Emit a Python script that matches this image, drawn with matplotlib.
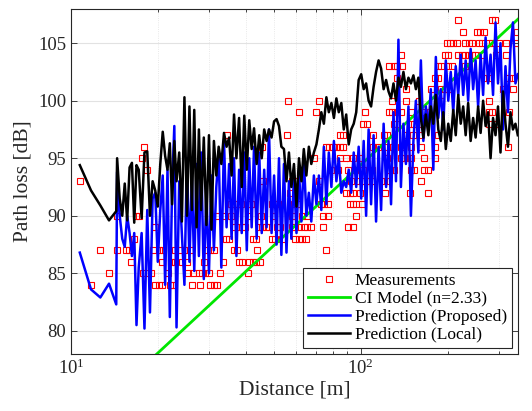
import matplotlib
matplotlib.use("Agg")
import matplotlib.pyplot as plt
from matplotlib.ticker import FixedLocator, NullFormatter

plt.rcParams["font.family"] = ["Liberation Serif", "DejaVu Serif"]
plt.rcParams["mathtext.fontset"] = "custom"
plt.rcParams["mathtext.rm"] = "Liberation Serif"
plt.rcParams["mathtext.it"] = "Liberation Serif:italic"

# measured path loss (dB, integer steps) -> distances where it was recorded [m]
d_84 = [11.66, 19.53, 20.06, 20.61, 21.88, 22.48, 26.07, 27.74, 30.25, 31.08, 31.93]
d_85 = [13.46, 17.63, 18.35, 18.86, 21.58, 25.38, 26.43, 27.52, 28.28, 29.05, 29.84, 32.63, 40.72]
d_86 = [16.12, 20.61, 22.18, 22.78, 24.04, 25.04, 28.66, 33.35, 37.85, 38.89, 41.26, 42.41, 43.57, 44.76]
d_87 = [12.58, 14.40, 15.40, 15.82, 19.11, 20.17, 20.72, 22.78, 23.73, 24.71, 25.73, 29.05, 30.07,
        31.08, 36.35, 37.30, 43.80, 75.80]
d_88 = [16.48, 34.16, 35.10, 42.41, 43.57, 49.20, 50.55, 53.30, 59.45, 61.10, 62.70, 64.47]
d_89 = [19.50, 36.56, 37.55, 38.90, 39.95, 44.50, 45.70, 46.96, 48.20, 51.20, 52.60, 57.90, 59.45,
        61.10, 63.60, 65.35, 67.10, 73.80, 90.40, 94.15]
d_90 = [14.40, 16.70, 17.16, 31.93, 33.70, 35.60, 41.26, 45.40, 49.87, 57.90, 62.70, 65.35, 73.80,
        76.85, 96.70]
d_91 = [35.60, 36.56, 37.55, 38.58, 41.84, 42.70, 49.20, 50.55, 51.93, 58.67, 60.27, 72.80, 74.80,
        76.85, 91.60, 94.15, 96.70, 100.7]
d_92 = [57.10, 60.27, 89.20, 91.60, 94.15, 99.35, 121.6, 148.2, 171.4]
d_93 = [10.76, 45.98, 57.90, 59.45, 71.80, 92.90, 98.00, 100.7, 104.9, 106.3, 109.2, 120.1, 123.3, 161.6]
d_94 = [18.20, 78.96, 83.40, 90.40, 95.40, 102.0, 109.2, 126.7, 130.2, 149.0, 153.1, 166.0, 170.5]
d_95 = [17.50, 68.97, 84.50, 89.20, 94.15, 99.35, 123.3, 137.4, 141.1, 145.0, 149.0, 166.0, 180.0]
d_96 = [17.87, 45.70, 75.80, 77.90, 80.00, 82.20, 84.50, 86.80, 110.7, 115.2, 123.3, 126.7, 137.4,
        149.0, 161.6, 180.0, 321.9]
d_97 = [34.60, 55.60, 84.50, 86.80, 110.7, 120.1, 123.3, 145.0, 151.0, 161.6, 184.9]
d_98 = [102.0, 104.9, 130.2, 133.8, 149.0, 153.1, 161.6, 277.4, 292.8]
d_99 = [61.10, 69.90, 103.4, 125.0, 128.4, 133.8, 137.4, 149.0, 166.0, 170.5, 277.4, 285.0, 326.0]
d_100 = [56.30, 71.80, 128.4, 143.1, 159.4, 190.0, 277.4]
d_101 = [143.1, 175.1, 190.0, 195.2, 200.6, 309.1, 335.1]
d_102 = [133.8, 180.0, 184.9, 270.0, 277.4, 326.0, 335.0]
d_103 = [125.0, 130.2, 133.8, 139.2, 184.9, 190.0, 200.6, 206.2, 229.6, 235.9]
d_104 = [137.4, 195.2, 200.6, 217.5, 223.5, 229.6, 235.9, 242.4, 249.0, 262.8, 292.8, 317.5]
d_105 = [197.9, 203.4, 209.0, 214.7, 229.6, 235.9, 242.4, 255.8, 262.8, 277.4, 285.0, 300.8, 317.5, 348.0]
d_106 = [226.5, 252.4, 259.3, 266.4, 348.0]
d_107 = [217.5, 283.4, 291.2]

meas_levels = list(range(84, 108))
meas_groups = [d_84, d_85, d_86, d_87, d_88, d_89, d_90, d_91, d_92, d_93, d_94, d_95,
               d_96, d_97, d_98, d_99, d_100, d_101, d_102, d_103, d_104, d_105, d_106, d_107]

# CI model, n = 2.33 (straight line on the log axis)
ci_dist = [10.0, 350.0]
ci_pl = [71.1, 107.1]

# predictions along the route
pred_dist = [
    10.7, 11.7, 12.6, 13.5, 14.3,
    14.4, 14.7, 15.0, 15.3, 15.6, 15.9, 16.2, 16.5, 16.8, 17.1,
    17.5, 17.9, 18.3, 18.7, 19.1, 19.5, 19.9, 20.3, 20.7, 21.1,
    21.5, 21.9, 22.3, 22.7, 23.1, 23.6, 24.1, 24.6, 25.1, 25.6,
    26.1, 26.6, 27.1, 27.6, 28.1, 28.7, 29.3, 29.9, 30.5, 31.1,
    31.7, 32.3, 33.0, 33.7, 34.4, 35.1, 35.8, 36.5, 37.2, 38.0,
    38.8, 39.6, 40.4, 41.2, 42.0, 42.8, 43.7, 44.6, 45.5, 46.4,
    47.3, 48.2, 49.2, 50.2, 51.2, 52.2, 53.2, 54.3, 55.4, 56.5,
    57.6, 58.8, 60.0, 61.2, 62.4, 63.6, 64.9, 66.2, 67.5, 68.9,
    70.3, 71.7, 73.1, 74.6, 76.1, 77.6, 79.2, 80.8, 82.4, 84.0,
    85.7, 87.4, 89.1, 90.9, 92.7, 94.6, 96.5, 98.4, 100.4, 102.4,
    104.4, 106.5, 108.6, 110.8, 113.0, 115.3, 117.6, 120.0, 122.4, 124.8,
    127.3, 129.8, 132.4, 135.0, 137.7, 140.5, 143.3, 146.2, 149.1, 152.1,
    155.1, 158.2, 161.4, 164.6, 167.9, 171.3, 174.7, 178.2, 181.8, 185.4,
    189.1, 192.9, 196.8, 200.7, 204.7, 208.8, 213.0, 217.3, 221.6, 226.0,
    230.5, 235.1, 239.8, 244.6, 249.5, 254.5, 259.6, 264.8, 270.1, 275.5,
    281.0, 286.6, 292.3, 298.1, 304.1, 310.2, 316.4, 322.7, 329.2, 335.8,
    342.5, 349.0,
]

pred_proposed = [
    86.8, 83.6, 82.9, 84.1, 82.3,
    93.8, 90.0, 88.0, 87.3, 90.0, 88.5, 86.5, 88.5, 80.5, 85.5,
    88.5, 80.2, 90.5, 81.6, 91.5, 92.0, 86.0, 90.5, 93.5, 84.0,
    94.0, 81.2, 92.5, 97.8, 80.3, 93.0, 88.5, 84.0, 95.0, 86.0,
    93.5, 85.2, 94.5, 86.5, 95.5, 84.5, 92.0, 85.0, 93.5, 87.0,
    92.5, 95.5, 85.5, 96.5, 89.0, 94.5, 88.0, 95.0, 86.5, 94.0,
    88.5, 95.5, 87.0, 95.0, 89.0, 96.0, 88.0, 95.5, 88.5, 94.0,
    89.0, 97.5, 88.5, 93.5, 87.5, 95.0, 86.6, 94.5, 86.8, 93.0,
    88.0, 93.5, 88.5, 94.0, 89.5, 95.0, 90.0, 92.0, 89.5, 93.5,
    91.0, 93.5, 90.5, 96.0, 91.0, 95.5, 92.5, 96.5, 93.0, 95.0,
    92.0, 93.0, 92.5, 94.0, 92.0, 95.5, 92.5, 96.0, 91.5, 96.5,
    90.0, 97.5, 91.0, 97.0, 89.5, 96.0, 90.5, 98.0, 92.5, 96.5,
    91.0, 99.0, 93.0, 105.3, 92.5, 98.0, 94.5, 99.5, 90.0, 96.5,
    100.0, 95.5, 103.5, 96.5, 99.5, 97.5, 101.0, 94.0, 103.8, 98.5,
    101.0, 97.5, 103.5, 100.0, 102.5, 99.0, 103.0, 100.5, 104.0, 100.5,
    103.5, 100.0, 104.5, 101.0, 103.5, 99.5, 104.0, 100.5, 105.5, 101.5,
    104.0, 100.5, 106.8, 101.5, 105.0, 97.5, 103.0, 99.0, 104.5, 106.8,
    101.5, 102.3,
]

pred_local = [
    94.4, 92.2, 90.9, 89.6, 90.4,
    95.0, 91.5, 90.0, 92.8, 89.6, 94.2, 94.6, 89.4, 94.4, 94.0,
    89.8, 95.5, 95.6, 90.0, 93.0, 92.2, 90.8, 94.5, 97.3, 95.2,
    94.0, 96.3, 91.0, 96.5, 93.0, 95.5, 89.5, 100.3, 90.0, 99.5,
    90.5, 99.2, 89.0, 97.5, 90.5, 96.8, 89.2, 97.0, 88.8, 96.5,
    93.5, 96.0, 94.5, 97.2, 96.0, 96.8, 93.5, 98.8, 95.0, 98.5,
    92.5, 98.7, 94.0, 98.3, 95.8, 97.6, 94.5, 97.0, 95.0, 97.5,
    96.5, 97.5, 96.8, 98.2, 98.4, 97.8, 96.0, 95.8, 93.0, 95.5,
    92.5, 94.5, 90.8, 95.0, 93.0, 95.8, 93.5, 96.0, 94.5, 95.5,
    96.2, 97.5, 99.0, 98.0, 100.3, 99.0, 99.8, 98.5, 100.2, 99.0,
    99.8, 97.5, 98.8, 96.2, 97.5, 98.0, 99.0, 101.8, 102.3, 101.0,
    101.5, 100.0, 99.5, 101.2, 102.5, 103.5, 102.8, 101.0, 101.8, 100.8,
    100.2, 101.5, 100.0, 102.0, 101.2, 102.5, 101.0, 102.0, 101.5, 102.2,
    101.0, 102.0, 98.5, 96.8, 98.8, 97.0, 99.5, 98.0, 100.5, 97.5,
    96.5, 99.0, 95.8, 98.0, 96.5, 99.2, 97.0, 100.5, 98.0, 99.5,
    97.0, 99.8, 96.5, 98.5, 96.8, 99.5, 97.2, 100.0, 97.8, 99.0,
    95.0, 98.5, 97.0, 99.5, 95.5, 100.8, 98.0, 96.0, 99.0, 97.5,
    98.0, 97.0,
]

GRID = "#e2e2e2"
AXIS = "#262626"

fig = plt.figure(figsize=(5.32, 4.11), dpi=100, facecolor="white")
ax = fig.add_axes([0.134, 0.139, 0.840, 0.840])

first = True
for lvl, dists in zip(meas_levels, meas_groups):
    ax.plot(dists, [lvl] * len(dists), linestyle="none", marker="s", markersize=4,
            markerfacecolor="none", markeredgecolor="#ff0000", markeredgewidth=0.8,
            label="Measurements" if first else None, zorder=2)
    first = False

ax.plot(ci_dist, ci_pl, color="#00e600", lw=2.0, label="CI Model (n=2.33)", zorder=3)
ax.plot(pred_dist, pred_proposed, color="#0000ff", lw=1.8, label="Prediction (Proposed)", zorder=4)
ax.plot(pred_dist, pred_local, color="black", lw=1.8, label="Prediction (Local)", zorder=5)

ax.set_xscale("log")
ax.set_xlim(10, 350)
ax.set_ylim(78, 108)
ax.set_yticks([80, 85, 90, 95, 100, 105])
ax.xaxis.set_minor_locator(FixedLocator([20, 30, 40, 50, 60, 70, 80, 90, 200, 300]))
ax.xaxis.set_minor_formatter(NullFormatter())

ax.grid(True, which="major", color=GRID, lw=0.8, ls="-")
ax.grid(True, which="minor", axis="x", color=GRID, lw=0.6, ls=":")
ax.set_axisbelow(True)

ax.tick_params(which="both", direction="in", top=True, right=True, colors=AXIS,
               labelsize=13.5, width=0.6)
ax.tick_params(which="major", length=4)
ax.tick_params(which="minor", length=2.5)
for sp in ax.spines.values():
    sp.set_color(AXIS)
    sp.set_linewidth(0.8)

ax.set_xlabel("Distance [m]", fontsize=15.5, color=AXIS, labelpad=2)
ax.set_ylabel("Path loss [dB]", fontsize=15.5, color=AXIS, labelpad=4)

leg = ax.legend(loc="lower right", fontsize=12.5, frameon=True, fancybox=False,
                framealpha=1, edgecolor=AXIS, handlelength=2.4, handletextpad=0.3,
                labelspacing=0.1, borderpad=0.3, borderaxespad=0.35)
leg.get_frame().set_linewidth(0.8)

fig.savefig("out.png", dpi=100, facecolor="white")
